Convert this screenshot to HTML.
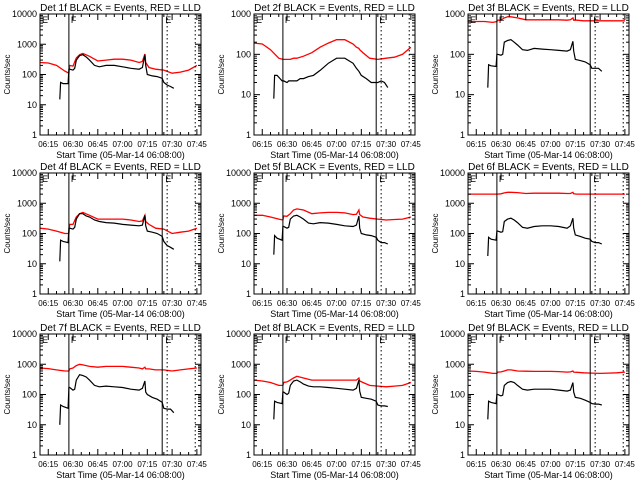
<!DOCTYPE html>
<html><head><meta charset="utf-8">
<style>
html,body{margin:0;padding:0;background:#fff;}
svg{display:block;}
text{font-family:"Liberation Sans",sans-serif;fill:#000;}
</style></head>
<body>
<svg id="chart" width="640" height="480" viewBox="0 0 640 480" xmlns="http://www.w3.org/2000/svg"></svg>
<script>
// Times in minutes after 06:00
const tickMinutes = [15, 30, 45, 60, 75, 90, 105];
const tickLabels = ["06:15", "06:30", "06:45", "07:00", "07:15", "07:30", "07:45"];
const markerLines = [27.5, 84, 87, 104];
const markerStyles = ["solid", "solid", "dotted", "dotted"];
const panelTitles = ["Det 1f", "Det 2f", "Det 3f", "Det 4f", "Det 5f", "Det 6f", "Det 7f", "Det 8f", "Det 9f"];
const panelMaxDecade = [4, 3, 3, 4, 4, 4, 4, 4, 4];
const blackTimes = [22, 22.5, 24, 27, 27.5, 28, 30, 31, 32, 34, 36, 38, 40, 43, 46, 50, 55, 60, 65, 70, 72, 73.5, 74, 75, 78, 81, 84, 85, 87, 89, 91];
const redTimes = [10, 15, 20, 25, 27.5, 28, 30, 32, 34, 36, 40, 45, 50, 55, 60, 65, 70, 72, 73.5, 74, 76, 80, 85, 90, 95, 100, 105];
const black1 = [15,55,50,50,150,150,140,160,300,420,450,380,300,200,180,200,200,180,160,150,170,450,200,100,90,85,75,55,45,40,35];
const red1 = [250,240,200,130,110,200,190,350,450,500,400,280,300,320,320,300,250,270,480,250,170,150,140,110,120,140,200];
const black2 = [8,30,30,22,22,22,20,22,22,22,22,25,25,28,30,40,60,80,80,60,45,38,35,30,25,20,20,20,22,20,15];
const red2 = [190,180,130,80,75,75,75,75,80,80,90,110,150,190,230,230,180,150,140,130,110,80,75,80,85,100,150];
const black3 = [15,55,52,50,100,100,95,100,200,220,230,200,170,130,125,140,135,130,125,120,130,210,120,75,70,65,55,45,45,45,38];
const red3 = [650,650,650,620,650,700,700,800,850,850,800,720,720,720,720,720,700,720,800,700,700,680,680,680,680,680,680];
const black4 = [12,60,55,50,150,150,140,160,300,450,450,380,350,280,250,230,220,200,190,180,190,400,180,120,110,100,80,55,40,35,30];
const red4 = [150,140,120,100,100,200,200,350,450,500,400,300,300,300,300,280,250,260,400,250,200,150,140,100,110,120,150];
const black5 = [20,85,70,60,170,170,150,160,300,380,400,350,300,220,210,230,220,200,180,170,190,380,150,100,90,85,75,60,50,50,45];
const red5 = [400,400,350,300,280,380,370,450,600,650,600,450,480,500,500,480,420,430,600,420,350,320,300,280,290,300,350];
const black6 = [18,75,65,60,120,120,110,115,250,300,320,280,230,160,150,170,180,180,170,150,180,320,150,90,80,70,65,55,50,50,45];
const red6 = [2000,2000,2000,2000,2000,2000,2050,2200,2300,2300,2250,2100,2150,2150,2150,2150,2100,2100,2300,2050,2000,2000,2000,2000,2000,2000,2000];
const black7 = [10,45,40,35,170,170,140,150,300,450,420,380,300,200,180,190,180,170,150,140,160,280,120,100,80,70,55,35,33,33,25];
const red7 = [750,720,650,600,600,700,750,900,1000,950,850,800,850,850,850,800,750,700,800,700,700,650,650,600,650,700,750];
const black8 = [15,60,55,50,120,120,100,110,200,280,300,260,220,190,180,180,170,160,150,140,160,300,130,80,75,70,60,45,42,42,40];
const red8 = [300,280,250,200,200,250,260,300,350,400,350,300,300,300,300,300,300,300,350,280,250,200,190,180,190,200,250];
const black9 = [15,60,55,50,100,100,90,95,200,250,270,250,200,150,140,150,150,150,140,130,140,250,120,80,75,65,55,50,48,48,45];
const red9 = [600,580,550,500,500,550,560,600,650,650,600,590,580,580,580,570,550,560,600,550,540,520,510,500,510,520,550];
const blackSeries = [black1, black2, black3, black4, black5, black6, black7, black8, black9];
const redSeries = [red1, red2, red3, red4, red5, red6, red7, red8, red9];

const NS = "http://www.w3.org/2000/svg";
const svg = document.getElementById("chart");
const colLefts = [40, 254, 468];
const rowTops = [14, 173, 334];
const PW = 161, PH = 121;
const T0 = 10, T1 = 107.5;

function mk(tag, attrs, parent) {
  const e = document.createElementNS(NS, tag);
  for (const k in attrs) e.setAttribute(k, attrs[k]);
  parent.appendChild(e);
  return e;
}

for (let p = 0; p < 9; p++) {
  const L = colLefts[p % 3], T = rowTops[Math.floor(p / 3)];
  const maxDec = panelMaxDecade[p];
  const xS = t => L + (t - T0) / (T1 - T0) * PW;
  const yS = v => T + PH - Math.log10(v) / maxDec * PH;
  const g = mk("g", {}, svg);
  
  

  const title = mk("text", {x: L + PW / 2, y: T - 3, "font-size": 10, "text-anchor": "middle"}, g);
  title.textContent = panelTitles[p] + " BLACK = Events, RED = LLD";
  
  

  const cid = "clip" + p;
  const cp = mk("clipPath", {id: cid}, g);
  mk("rect", {x: L, y: T, width: PW, height: PH}, cp);
  const red = redSeries[p], blk = blackSeries[p];
  const rp = mk("polyline", {points: redTimes.map((t, i) => xS(t).toFixed(1) + "," + yS(red[i]).toFixed(1)).join(" "), fill: "none", stroke: "#ff0000", "stroke-width": 1.3, "clip-path": "url(#" + cid + ")"}, g);
  
  
  const bp = mk("polyline", {points: blackTimes.map((t, i) => xS(t).toFixed(1) + "," + yS(blk[i]).toFixed(1)).join(" "), fill: "none", stroke: "#000", "stroke-width": 1.2, "clip-path": "url(#" + cid + ")"}, g);
  
  

  markerLines.forEach((t, i) => {
    const ln = mk("line", {x1: xS(t), x2: xS(t), y1: T, y2: T + PH, stroke: "#000", "stroke-width": 1, "stroke-dasharray": markerStyles[i] === "dotted" ? "1.5,2.5" : "none"}, g);
    
    
  });
  [[L + 2, "E"], [xS(markerLines[0]) + 2, "F"], [xS(markerLines[1]) + 3, "E"]].forEach(m => {
    const tx = mk("text", {x: m[0], y: T + 9, "font-size": 9}, g);
    tx.textContent = m[1];
    
    
  });

  const fr = mk("rect", {x: L, y: T, width: PW, height: PH, fill: "none", stroke: "#000", "stroke-width": 1}, g);
  
  

  for (let d = 0; d <= maxDec; d++) {
    const v = Math.pow(10, d), y = yS(v);
    mk("line", {x1: L, x2: L + 6, y1: y, y2: y, stroke: "#000"}, g);
    mk("line", {x1: L + PW - 6, x2: L + PW, y1: y, y2: y, stroke: "#000"}, g);
    const lb = mk("text", {x: L - 3, y: y + 3, "font-size": 9, "text-anchor": "end"}, g);
    lb.textContent = String(v);
    
    
    if (d < maxDec) for (let m = 2; m <= 9; m++) {
      const ym = yS(m * v);
      mk("line", {x1: L, x2: L + 3, y1: ym, y2: ym, stroke: "#000"}, g);
      mk("line", {x1: L + PW - 3, x2: L + PW, y1: ym, y2: ym, stroke: "#000"}, g);
    }
  }
  for (let t = 15; t <= T1; t += 5) {
    const x = xS(t), major = (t % 15 === 0) ? 6 : 3;
    mk("line", {x1: x, x2: x, y1: T + PH - major, y2: T + PH, stroke: "#000"}, g);
    mk("line", {x1: x, x2: x, y1: T, y2: T + major, stroke: "#000"}, g);
  }
  tickMinutes.forEach((t, i) => {
    const lb = mk("text", {x: xS(t), y: T + PH + 12, "font-size": 8, "text-anchor": "middle"}, g);
    lb.textContent = tickLabels[i];
    
    
  });
  const xt = mk("text", {x: L + PW / 2, y: T + PH + 23, "font-size": 9, "text-anchor": "middle"}, g);
  xt.textContent = "Start Time (05-Mar-14 06:08:00)";
  
  
  const yt = mk("text", {x: 0, y: 0, "font-size": 8, "text-anchor": "middle", transform: "translate(" + (L - 30) + "," + (T + PH / 2) + ") rotate(-90)"}, g);
  yt.textContent = "Counts/sec";
  
  
}
</script>
</body></html>
